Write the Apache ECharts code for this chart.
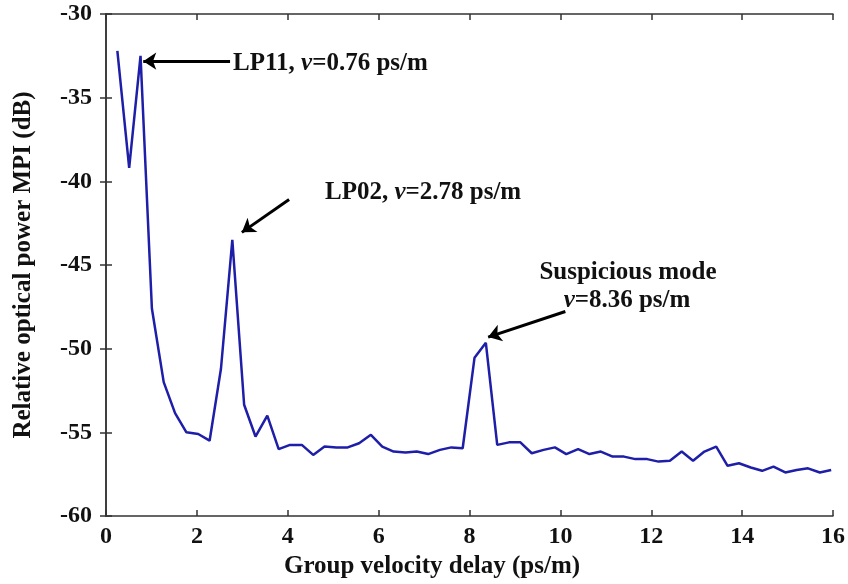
<!DOCTYPE html>
<html>
<head>
<meta charset="utf-8">
<script src="https://cdn.jsdelivr.net/npm/echarts@6/dist/echarts.min.js"></script>
</head>
<body style="margin:0;background:#fff;">
<div id="main" style="width:848px;height:584px;"></div>
<script type="text/javascript">
    // group velocity delay (ps/m)
    var delay = [0.25, 0.51, 0.76, 1.01, 1.27, 1.52, 1.77, 2.03, 2.28, 2.53,
        2.78, 3.04, 3.29, 3.55, 3.80, 4.05, 4.31, 4.56, 4.81, 5.07,
        5.32, 5.57, 5.83, 6.08, 6.33, 6.59, 6.84, 7.09, 7.35, 7.60,
        7.85, 8.11, 8.36, 8.61, 8.87, 9.12, 9.37, 9.63, 9.88, 10.13,
        10.39, 10.64, 10.89, 11.15, 11.40, 11.65, 11.91, 12.16, 12.41, 12.67,
        12.92, 13.17, 13.43, 13.68, 13.93, 14.19, 14.44, 14.69, 14.95, 15.20,
        15.45, 15.71, 15.96];
    // relative optical power MPI (dB)
    var power = [-32.2, -39.2, -32.5, -47.6, -52.0, -53.85, -55.0, -55.1, -55.5, -51.2,
        -43.5, -53.35, -55.25, -54.0, -56.0, -55.75, -55.75, -56.35, -55.85, -55.9,
        -55.9, -55.65, -55.15, -55.85, -56.15, -56.2, -56.15, -56.3, -56.05, -55.9,
        -55.95, -50.55, -49.65, -55.75, -55.6, -55.6, -56.25, -56.05, -55.9, -56.3,
        -56.0, -56.3, -56.15, -56.45, -56.45, -56.6, -56.6, -56.75, -56.7, -56.15,
        -56.7, -56.15, -55.85, -57.0, -56.85, -57.1, -57.3, -57.05, -57.4, -57.25,
        -57.15, -57.4, -57.25];
    // arrows: [tail, head] in data coordinates
    var arrows = [
        [[2.73, -32.82], [0.82, -32.82]],
        [[4.03, -41.09], [2.99, -43.05]],
        [[10.11, -47.78], [8.41, -49.31]]
    ];

    var font = 'Liberation Serif';
    var axisCol = '#333';
    var txtCol = '#111';

    var myChart = echarts.init(document.getElementById('main'));

    var tickStyle = { show: true, inside: true, length: 6, lineStyle: { color: axisCol, width: 1.5 } };
    var lineStyle = { show: true, lineStyle: { color: axisCol, width: 1.5 } };
    var labelStyle = { fontFamily: font, fontWeight: 'bold', fontSize: 24, color: txtCol };
    var rich = {
        a: { fontFamily: font, fontWeight: 'bold', fontSize: 25, fill: txtCol },
        b: { fontFamily: font, fontWeight: 'bold', fontStyle: 'italic', fontSize: 25, fill: txtCol }
    };

    var option = {
        animation: false,
        grid: { left: 106, right: 15, top: 14, bottom: 68 },
        xAxis: [{
            type: 'value', min: 0, max: 16, interval: 2,
            axisLine: lineStyle, axisTick: tickStyle, splitLine: { show: false },
            axisLabel: Object.assign({ margin: 9 }, labelStyle),
            name: 'Group velocity delay (ps/m)',
            nameLocation: 'middle', nameGap: 38,
            nameTextStyle: { fontFamily: font, fontWeight: 'bold', fontSize: 25, color: txtCol, padding: [0, 75, 0, 0] }
        }, {
            type: 'value', min: 0, max: 16, interval: 2, position: 'top',
            axisLine: lineStyle, axisTick: tickStyle, splitLine: { show: false },
            axisLabel: { show: false }
        }],
        yAxis: [{
            type: 'value', min: -60, max: -30, interval: 5,
            axisLine: lineStyle, axisTick: tickStyle, splitLine: { show: false },
            axisLabel: Object.assign({ margin: 14 }, labelStyle),
            name: 'Relative optical power MPI (dB)',
            nameLocation: 'middle', nameGap: 70,
            nameTextStyle: { fontFamily: font, fontWeight: 'bold', fontSize: 25, color: txtCol }
        }, {
            type: 'value', min: -60, max: -30, interval: 5, position: 'right',
            axisLine: lineStyle, axisTick: tickStyle, splitLine: { show: false },
            axisLabel: { show: false }
        }],
        series: [{
            type: 'line',
            data: delay.map(function (d, i) { return [d, power[i]]; }),
            showSymbol: false,
            lineStyle: { color: '#1e1ea8', width: 2.5 },
            markLine: {
                silent: true,
                symbol: ['none', 'arrow'],
                symbolSize: [13, 13],
                lineStyle: { color: '#000', width: 3, type: 'solid' },
                label: { show: false },
                emphasis: { disabled: true },
                data: arrows.map(function (a) { return [{ coord: a[0] }, { coord: a[1] }]; })
            }
        }],
        graphic: [{
            type: 'text', left: 233, top: 51,
            style: { text: '{a|LP11, }{b|v}{a|=0.76 ps/m}', rich: rich }
        }, {
            type: 'text', left: 325, top: 180,
            style: { text: '{a|LP02, }{b|v}{a|=2.78 ps/m}', rich: rich }
        }, {
            type: 'text', x: 628, y: 260,
            style: {
                text: 'Suspicious mode', textAlign: 'center',
                fontFamily: font, fontWeight: 'bold', fontSize: 25, fill: txtCol
            }
        }, {
            type: 'text', x: 627, y: 288,
            style: { text: '{b|v}{a|=8.36 ps/m}', textAlign: 'center', rich: rich }
        }]
    };

    myChart.setOption(option);
</script>
</body>
</html>
